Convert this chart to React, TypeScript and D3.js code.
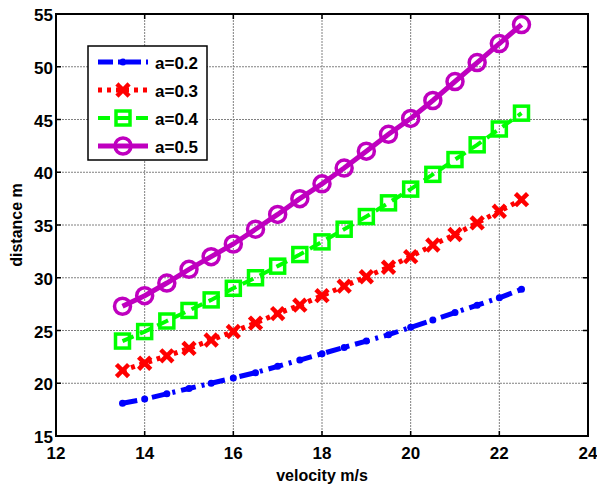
import React from "react";
import { scaleLinear, line } from "d3";

const velocity = [13.5, 14, 14.5, 15, 15.5, 16, 16.5, 17, 17.5, 18, 18.5, 19, 19.5, 20, 20.5, 21, 21.5, 22, 22.5];
const dist02 = [18.1, 18.5, 19.0, 19.5, 20.0, 20.5, 21.0, 21.6, 22.2, 22.8, 23.4, 24.0, 24.6, 25.3, 26.0, 26.7, 27.4, 28.1, 28.9];
const dist03 = [21.2, 21.9, 22.6, 23.3, 24.1, 24.9, 25.7, 26.6, 27.4, 28.3, 29.2, 30.1, 31.0, 32.0, 33.1, 34.1, 35.2, 36.3, 37.4];
const dist04 = [24.0, 24.9, 25.9, 26.9, 27.9, 29.0, 30.0, 31.1, 32.2, 33.4, 34.6, 35.8, 37.1, 38.4, 39.8, 41.2, 42.6, 44.1, 45.6];
const dist05 = [27.3, 28.3, 29.5, 30.8, 32.0, 33.2, 34.6, 36.0, 37.5, 38.9, 40.4, 42.0, 43.6, 45.1, 46.8, 48.6, 50.4, 52.2, 54.0];
const seriesNames = ["a=0.2", "a=0.3", "a=0.4", "a=0.5"];
const xTicks = [12, 14, 16, 18, 20, 22, 24];
const yTicks = [15, 20, 25, 30, 35, 40, 45, 50, 55];

const font = "'Liberation Sans', Arial, sans-serif";

const series = [
  { name: seriesNames[0], values: dist02, color: "#0000ff", dash: "15,6,3,6", width: 5, marker: "dot" },
  { name: seriesNames[1], values: dist03, color: "#ff0000", dash: "4,5", width: 5, marker: "x" },
  { name: seriesNames[2], values: dist04, color: "#00ff00", dash: "12,7", width: 4, marker: "square" },
  { name: seriesNames[3], values: dist05, color: "#bf00bf", dash: "none", width: 5, marker: "circle" },
];

const Marker = ({ type, x, y, color }) => {
  if (type === "dot") return <circle cx={x} cy={y} r={3.5} fill={color} />;
  if (type === "x")
    return (
      <g stroke={color} strokeWidth={4.5} strokeLinecap="square">
        <line x1={x - 4.5} y1={y - 4.5} x2={x + 4.5} y2={y + 4.5} />
        <line x1={x - 4.5} y1={y + 4.5} x2={x + 4.5} y2={y - 4.5} />
      </g>
    );
  if (type === "square")
    return <rect x={x - 7} y={y - 7} width={14} height={14} fill="none" stroke={color} strokeWidth={3.5} />;
  return <circle cx={x} cy={y} r={8} fill="none" stroke={color} strokeWidth={3.5} />;
};

export default function App() {
  const width = 597;
  const height = 488;
  const left = 56;
  const right = 588;
  const top = 14;
  const bottom = 436;

  const x = scaleLinear().domain([12, 24]).range([left, right]);
  const y = scaleLinear().domain([15, 55]).range([bottom, top]);

  const path = line<number>()
    .x((d, i) => x(velocity[i]))
    .y((d) => y(d));

  // legend box
  const lx = 88, ly = 46, lw = 119, lh = 114;

  return (
    <svg width={width} height={height} style={{ position: "absolute", left: 0, top: 0, background: "white" }}>
      <rect width={width} height={height} fill="white" />
      {/* grid */}
      <g stroke="#808080" strokeWidth={1} strokeDasharray="2,1">
        {xTicks.slice(1, -1).map((t) => (
          <line key={"gx" + t} x1={x(t)} x2={x(t)} y1={top} y2={bottom} />
        ))}
        {yTicks.slice(1, -1).map((t) => (
          <line key={"gy" + t} x1={left} x2={right} y1={y(t)} y2={y(t)} />
        ))}
      </g>
      {/* ticks */}
      <g stroke="black" strokeWidth={1.5}>
        {xTicks.map((t) => (
          <g key={"tx" + t}>
            <line x1={x(t)} x2={x(t)} y1={bottom} y2={bottom - 5} />
            <line x1={x(t)} x2={x(t)} y1={top} y2={top + 5} />
          </g>
        ))}
        {yTicks.map((t) => (
          <g key={"ty" + t}>
            <line x1={left} x2={left + 5} y1={y(t)} y2={y(t)} />
            <line x1={right} x2={right - 5} y1={y(t)} y2={y(t)} />
          </g>
        ))}
      </g>
      {/* series */}
      {series.map((s) => (
        <g key={s.name}>
          <path
            d={path(s.values) || ""}
            fill="none"
            stroke={s.color}
            strokeWidth={s.width}
            strokeDasharray={s.dash}
          />
          {s.values.map((v, i) => (
            <Marker key={i} type={s.marker} x={x(velocity[i])} y={y(v)} color={s.color} />
          ))}
        </g>
      ))}
      {/* axes box */}
      <rect x={left} y={top} width={right - left} height={bottom - top} fill="none" stroke="black" strokeWidth={2} />
      {/* tick labels */}
      <g fontFamily={font} fontWeight="bold" fontSize={17} fill="black">
        {xTicks.map((t) => (
          <text key={"lx" + t} x={x(t)} y={bottom + 23} textAnchor="middle">
            {t}
          </text>
        ))}
        {yTicks.map((t) => (
          <text key={"ly" + t} x={left - 3} y={y(t) + 7} textAnchor="end">
            {t}
          </text>
        ))}
      </g>
      <text x={(left + right) / 2} y={481} textAnchor="middle" fontFamily={font} fontWeight="bold" fontSize={16}>
        velocity m/s
      </text>
      <text
        transform={`translate(22, ${(top + bottom) / 2}) rotate(-90)`}
        textAnchor="middle"
        fontFamily={font}
        fontWeight="bold"
        fontSize={16}
      >
        distance m
      </text>
      {/* legend */}
      <rect x={lx} y={ly} width={lw} height={lh} fill="white" stroke="black" strokeWidth={1.5} />
      {series.map((s, i) => {
        const yy = ly + 16 + i * 28;
        return (
          <g key={"lg" + s.name}>
            <line
              x1={lx + 10}
              x2={lx + 60}
              y1={yy}
              y2={yy}
              stroke={s.color}
              strokeWidth={s.width}
              strokeDasharray={s.dash === "none" ? "none" : s.marker === "dot" ? "15,5,3,5" : s.dash}
            />
            <Marker type={s.marker} x={lx + 35} y={yy} color={s.color} />
            <text x={lx + 67} y={yy + 7} fontFamily={font} fontWeight="bold" fontSize={17}>
              {s.name}
            </text>
          </g>
        );
      })}
    </svg>
  );
}
